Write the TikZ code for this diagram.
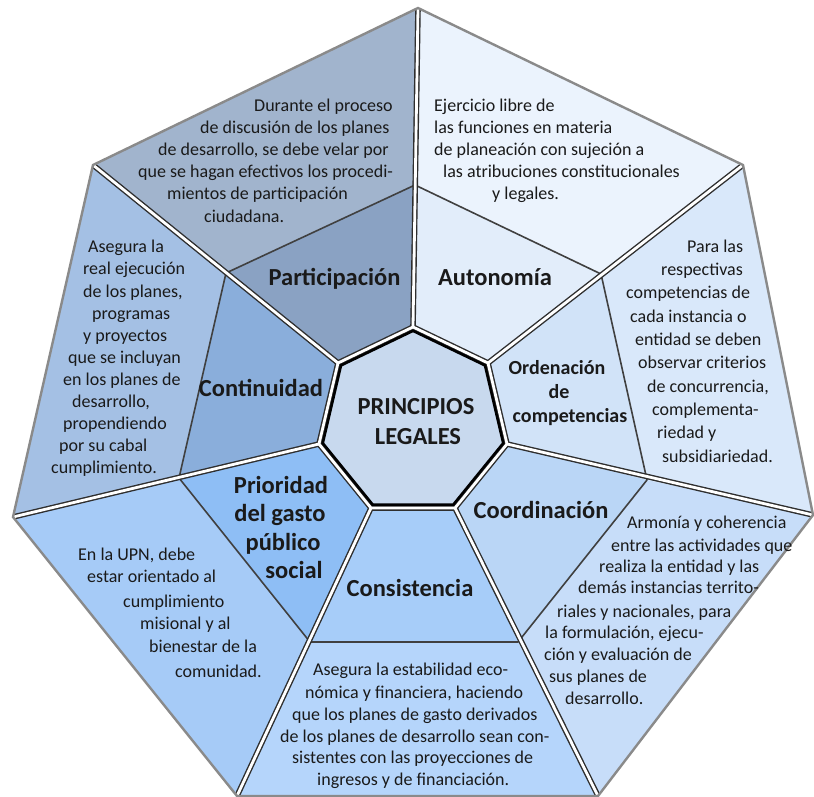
\documentclass[tikz,border=0pt]{standalone}
\usepackage{fontspec}
\setmainfont{Carlito}
\usetikzlibrary{calc}
\definecolor{txt}{HTML}{1A1A1A}
\definecolor{autO}{HTML}{EBF3FD}
\definecolor{autM}{HTML}{E2EDFA}
\definecolor{ordO}{HTML}{D9E8FA}
\definecolor{ordM}{HTML}{D1E3F8}
\definecolor{cooO}{HTML}{C7DDF9}
\definecolor{cooM}{HTML}{BAD6F6}
\definecolor{conO}{HTML}{B5D5FB}
\definecolor{conM}{HTML}{A7CDF9}
\definecolor{priO}{HTML}{A6CBF7}
\definecolor{priM}{HTML}{8EBEF5}
\definecolor{ctnO}{HTML}{A4C0E4}
\definecolor{ctnM}{HTML}{8AAEDB}
\definecolor{parO}{HTML}{A1B4CD}
\definecolor{parM}{HTML}{8AA2C3}
\definecolor{cen}{HTML}{C8D9EE}
\definecolor{midgray}{HTML}{404040}
\definecolor{spk}{HTML}{2E2E2E}
\definecolor{rim}{HTML}{8A8A8A}
\begin{document}
\begin{tikzpicture}[x=1pt,y=-1pt,
  desc/.style={anchor=base west,inner sep=0pt,font=\fontsize{18}{22}\selectfont,text=txt},
  lab/.style={anchor=base,inner sep=0pt,font=\fontsize{24.5}{28}\selectfont\bfseries,text=txt},
  labs/.style={anchor=base,inner sep=0pt,font=\fontsize{20}{24}\selectfont\bfseries,text=txt},
  midline/.style={draw=midgray,line width=1.6pt,line cap=round},
  spokedark/.style={draw=spk,line width=5.6pt,line join=miter},
  spokelight/.style={draw=white,line width=2.8pt,line join=miter},
  rimline/.style={draw=rim,line width=2.4pt,line join=miter}]
\useasboundingbox (0,0) rectangle (814,797);
% outer vertices
\coordinate (O1) at (418,8);
\coordinate (O2) at (743,165);
\coordinate (O3) at (813,515);
\coordinate (O4) at (598,796);
\coordinate (O5) at (237,796);
\coordinate (O6) at (13,517);
\coordinate (O7) at (93,165);
% inner vertices
\coordinate (C) at (413,423);
\coordinate (I1) at (413,327);
\coordinate (I2) at (488,363);
\coordinate (I3) at (507,444);
\coordinate (I4) at (455,508);
\coordinate (I5) at (371,508);
\coordinate (I6) at (319,444);
\coordinate (I7) at (338,363);
% middle ring vertices
\coordinate (M1) at (415,185);
\coordinate (M2) at (601,274);
\coordinate (M3) at (647,480);
\coordinate (M4) at (518,642);
\coordinate (M5) at (310,642);
\coordinate (M6) at (179,478);
\coordinate (M7) at (226,273);
% sector fills
\fill[autO] (O1)--(O2)--(M2)--(M1)--cycle;
\fill[ordO] (O2)--(O3)--(M3)--(M2)--cycle;
\fill[cooO] (O3)--(O4)--(M4)--(M3)--cycle;
\fill[conO] (O4)--(O5)--(M5)--(M4)--cycle;
\fill[priO] (O5)--(O6)--(M6)--(M5)--cycle;
\fill[ctnO] (O6)--(O7)--(M7)--(M6)--cycle;
\fill[parO] (O7)--(O1)--(M1)--(M7)--cycle;
\fill[autM] (M1)--(M2)--(I2)--(I1)--cycle;
\fill[ordM] (M2)--(M3)--(I3)--(I2)--cycle;
\fill[cooM] (M3)--(M4)--(I4)--(I3)--cycle;
\fill[conM] (M4)--(M5)--(I5)--(I4)--cycle;
\fill[priM] (M5)--(M6)--(I6)--(I5)--cycle;
\fill[ctnM] (M6)--(M7)--(I7)--(I6)--cycle;
\fill[parM] (M7)--(M1)--(I1)--(I7)--cycle;
% middle ring boundary
\draw[midline] (M1)--(M2) (M2)--(M3) (M3)--(M4) (M4)--(M5) (M5)--(M6) (M6)--(M7) (M7)--(M1);
% spokes and inner ring (dark edges, then white core)
\begin{scope}
\clip (O1)--(O2)--(O3)--(O4)--(O5)--(O6)--(O7)--cycle;
\draw[spokedark] (I1)--(O1) (I2)--(O2) (I3)--(O3) (I4)--(O4) (I5)--(O5) (I6)--(O6) (I7)--(O7);
\draw[spokedark] (I1)--(I2)--(I3)--(I4)--(I5)--(I6)--(I7)--cycle;
\draw[spokelight] (I1)--(O1) (I2)--(O2) (I3)--(O3) (I4)--(O4) (I5)--(O5) (I6)--(O6) (I7)--(O7);
\draw[spokelight] (I1)--(I2)--(I3)--(I4)--(I5)--(I6)--(I7)--cycle;
\end{scope}
% centre
\fill[cen] ($(C)!0.96!(I1)$)--($(C)!0.96!(I2)$)--($(C)!0.96!(I3)$)--($(C)!0.96!(I4)$)--($(C)!0.96!(I5)$)--($(C)!0.96!(I6)$)--($(C)!0.96!(I7)$)--cycle;
\draw[black,line width=2.6pt,line join=miter] ($(C)!0.96!(I1)$)--($(C)!0.96!(I2)$)--($(C)!0.96!(I3)$)--($(C)!0.96!(I4)$)--($(C)!0.96!(I5)$)--($(C)!0.96!(I6)$)--($(C)!0.96!(I7)$)--cycle;
% outer rim
\draw[rimline] (O1)--(O2)--(O3)--(O4)--(O5)--(O6)--(O7)--cycle;
% centre label
\node[lab] (pr1) at (416,414) {PRINCIPIOS};
\node[lab] (pr2) at (418,444) {LEGALES};
% ring labels
\node[lab] (lpar) at (334.5,285) {Participación};
\node[lab] (laut) at (495,285) {Autonomía};
\node[labs] (lord1) at (557,374) {Ordenación};
\node[labs] (lord2) at (559,398) {de};
\node[labs] (lord3) at (570,422) {competencias};
\node[lab] (lcoo) at (541,518) {Coordinación};
\node[lab] (lcon) at (410,596) {Consistencia};
\node[lab] (lpri1) at (281,493) {Prioridad};
\node[lab] (lpri2) at (280,521) {del gasto};
\node[lab] (lpri3) at (283,550) {público};
\node[lab] (lpri4) at (294,578) {social};
\node[lab] (lctn) at (261,396) {Continuidad};
% Participación description
\node[desc] (dp1) at (254,112) {Durante el proceso};
\node[desc] (dp2) at (200,134) {de discusión de los planes};
\node[desc] (dp3) at (158,156) {de desarrollo, se debe velar por};
\node[desc] (dp4) at (138,178) {que se hagan efectivos los procedi-};
\node[desc] (dp5) at (167,200) {mientos de participación};
\node[desc] (dp6) at (204,222) {ciudadana.};
% Autonomía description
\node[desc] (da1) at (434,112) {Ejercicio libre de};
\node[desc] (da2) at (434,134) {las funciones en materia};
\node[desc] (da3) at (434,156) {de planeación con sujeción a};
\node[desc] (da4) at (443,178) {las atribuciones constitucionales};
\node[desc] (da5) at (492,200) {y legales.};
% Ordenación description
\node[desc] (do1) at (687,252) {Para las};
\node[desc] (do2) at (661,275) {respectivas};
\node[desc] (do3) at (626,298) {competencias de};
\node[desc] (do4) at (630,322) {cada instancia o};
\node[desc] (do5) at (635,345) {entidad se deben};
\node[desc] (do6) at (638,368) {observar criterios};
\node[desc] (do7) at (647,392) {de concurrencia,};
\node[desc] (do8) at (652,415) {complementa-};
\node[desc] (do9) at (657,438) {riedad y};
\node[desc] (do10) at (662,462) {subsidiariedad.};
% Continuidad description
\node[desc] (dc1) at (88,252) {Asegura la};
\node[desc] (dc2) at (83,274) {real ejecución};
\node[desc] (dc3) at (83,297) {de los planes,};
\node[desc] (dc4) at (92,319) {programas};
\node[desc] (dc5) at (83,341) {y proyectos};
\node[desc] (dc6) at (68,363) {que se incluyan};
\node[desc] (dc7) at (63,385) {en los planes de};
\node[desc] (dc8) at (72,407) {desarrollo,};
\node[desc] (dc9) at (63,429) {propendiendo};
\node[desc] (dc10) at (59,451) {por su cabal};
\node[desc] (dc11) at (51,473) {cumplimiento.};
% Prioridad description
\node[desc] (dr1) at (78,560) {En la UPN, debe};
\node[desc] (dr2) at (87,582) {estar orientado al};
\node[desc] (dr3) at (123,607) {cumplimiento};
\node[desc] (dr4) at (140,629) {misional y al};
\node[desc] (dr5) at (149,652) {bienestar de la};
\node[desc] (dr6) at (175,677) {comunidad.};
% Coordinación description
\node[desc] (dk1) at (627,528) {Armonía y coherencia};
\node[desc] (dk2) at (611,551) {entre las actividades que};
\node[desc] (dk3) at (599,572) {realiza la entidad y las};
\node[desc] (dk4) at (578,593) {demás instancias territo-};
\node[desc] (dk5) at (557,617) {riales y nacionales, para};
\node[desc] (dk6) at (545,638) {la formulación, ejecu-};
\node[desc] (dk7) at (544,660) {ción y evaluación de};
\node[desc] (dk8) at (549,682) {sus planes de};
\node[desc] (dk9) at (565,704) {desarrollo.};
% Consistencia description
\node[desc] (ds1) at (313,675) {Asegura la estabilidad eco-};
\node[desc] (ds2) at (305,698) {nómica y financiera, haciendo};
\node[desc] (ds3) at (292,720) {que los planes de gasto derivados};
\node[desc] (ds4) at (280,742) {de los planes de desarrollo sean con-};
\node[desc] (ds5) at (292,763) {sistentes con las proyecciones de};
\node[desc] (ds6) at (317,785) {ingresos y de financiación.};
\end{tikzpicture}
\end{document}
